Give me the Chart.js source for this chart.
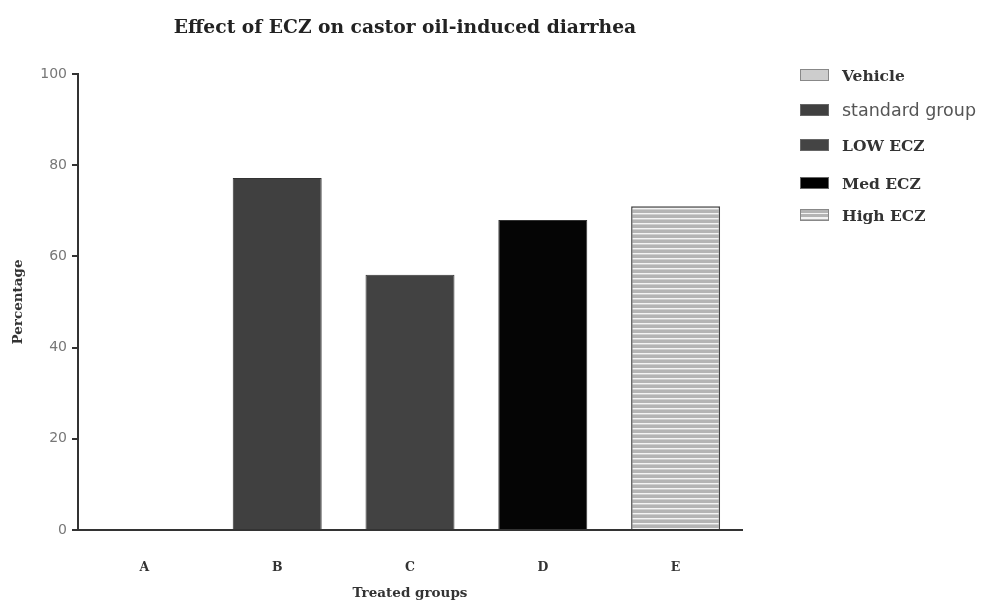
<!DOCTYPE html>
<html>
<head>
<meta charset="utf-8">
<script src="https://cdn.jsdelivr.net/npm/chart.js@4.4.1/dist/chart.umd.min.js"></script>
<style>
  html, body { margin: 0; padding: 0; background: #fff; }
  #wrap { position: relative; width: 986px; height: 605px; }
  #title {
    position: absolute; left: 0; width: 810px; top: 15px; text-align: center;
    font: bold 18.7px "DejaVu Serif", serif; color: #222;
  }
  #legend { position: absolute; left: 800px; top: 0; }
  .item { position: absolute; left: 0; white-space: nowrap; display: flex; align-items: center; }
  .box { width: 29px; height: 12px; box-sizing: border-box; border: 1px solid #666; margin-right: 13px; }
  .lbl { font: bold 15.5px "DejaVu Serif", serif; color: #333; }
  .lbl.sans { font: 17.5px "DejaVu Sans", sans-serif; color: #555; font-weight: normal; }
</style>
</head>
<body>
<div id="wrap">
  <canvas id="chart" width="986" height="605"></canvas>
  <div id="title">Effect of ECZ on castor oil-induced diarrhea</div>
  <div id="legend"></div>
</div>
<script>
const groups = ["A", "B", "C", "D", "E"];
const seriesNames = ["Vehicle", "standard group", "LOW ECZ", "Med ECZ", "High ECZ"];
const values = [0, 77.2, 56, 68, 71];
const yTicks = [0, 20, 40, 60, 80, 100];

// horizontal stripe fill for the last group
function stripes() {
  const c = document.createElement("canvas");
  c.width = 4; c.height = 5;
  const g = c.getContext("2d");
  g.fillStyle = "#b4b4b4"; g.fillRect(0, 0, 4, 5);
  g.fillStyle = "#f4f4f4"; g.fillRect(0, 3, 4, 1.4);
  return g.createPattern(c, "repeat");
}

const fills = ["#cccccc", "#404040", "#424242", "#050505", stripes()];
const swatches = ["#cdcdcd", "#404040", "#444444", "#000000",
  "repeating-linear-gradient(#b4b4b4 0 3px, #f4f4f4 3px 4.5px)"];
const legendY = [75, 110, 145, 183, 215];

// one dataset per group so each sits on its own category
const datasets = seriesNames.map((name, i) => ({
  label: name,
  data: groups.map((g, j) => (j === i ? values[i] : null)),
  backgroundColor: fills[i],
  borderColor: i === 4 ? "#444" : "#333",
  borderWidth: i === 4 ? 1.5 : 1,
  grouped: false,
  categoryPercentage: 1,
  barPercentage: 0.67
}));

const tickFont = { family: "DejaVu Serif", weight: "bold", size: 12.5 };
const titleFont = { family: "DejaVu Serif", weight: "bold", size: 13.5 };

new Chart(document.getElementById("chart"), {
  type: "bar",
  data: { labels: groups, datasets },
  options: {
    responsive: false,
    animation: false,
    layout: { padding: { top: 74, right: 244, left: 0, bottom: 0 } },
    plugins: { legend: { display: false }, tooltip: { enabled: false } },
    scales: {
      x: {
        grid: { display: false, drawTicks: false },
        border: { display: true, color: "#333", width: 2 },
        ticks: { color: "#333", font: tickFont, padding: 30 },
        title: { display: true, text: "Treated groups", color: "#333", font: titleFont, padding: { top: 4, bottom: 3 } },
        afterFit: s => { s.height = 75; }
      },
      y: {
        min: 0,
        max: 100,
        afterBuildTicks: s => { s.ticks = yTicks.map(v => ({ value: v })); },
        grid: { drawOnChartArea: false, drawTicks: true, tickLength: 6, color: "#333", lineWidth: 2 },
        border: { display: true, color: "#333", width: 2 },
        ticks: { color: "#777", font: { family: "DejaVu Sans", size: 14 }, padding: 5 },
        title: { display: true, text: "Percentage", color: "#333", font: titleFont, padding: { top: 10, bottom: 4 } },
        afterFit: s => { s.width = 78; }
      }
    }
  }
});

const legend = document.getElementById("legend");
seriesNames.forEach((name, i) => {
  const item = document.createElement("div");
  item.className = "item";
  item.style.top = (legendY[i] - 10) + "px";
  item.style.height = "20px";
  const box = document.createElement("span");
  box.className = "box";
  box.style.background = swatches[i];
  if (i === 0 || i === 4) box.style.borderColor = "#888";
  const lbl = document.createElement("span");
  lbl.className = i === 1 ? "lbl sans" : "lbl";
  lbl.textContent = name;
  item.appendChild(box);
  item.appendChild(lbl);
  legend.appendChild(item);
});
</script>
</body>
</html>
